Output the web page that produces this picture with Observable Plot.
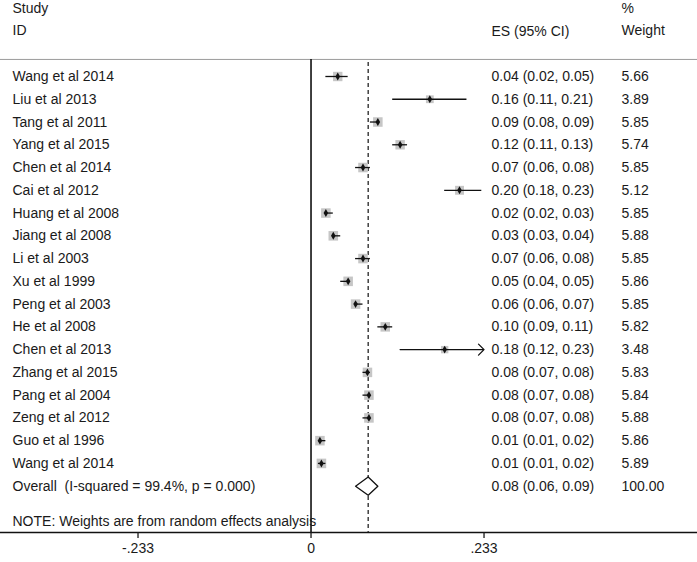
<!DOCTYPE html>
<html>
<head>
<meta charset="utf-8">
<script src="https://cdn.jsdelivr.net/npm/d3@7"></script>
<script src="https://cdn.jsdelivr.net/npm/@observablehq/plot@0.6"></script>
<style>
  html, body { margin: 0; padding: 0; background: #fff; }
</style>
</head>
<body>
<div id="chart"></div>
<script>
// ---- data ----
const studies = ["Wang et al 2014","Liu et al 2013","Tang et al 2011","Yang et al 2015","Chen et al 2014","Cai et al 2012","Huang et al 2008","Jiang et al 2008","Li et al 2003","Xu et al 1999","Peng et al 2003","He et al 2008","Chen et al 2013","Zhang et al 2015","Pang et al 2004","Zeng et al 2012","Guo et al 1996","Wang et al 2014"];
const es     = [0.036, 0.16, 0.09, 0.12, 0.07, 0.20, 0.02, 0.03, 0.07, 0.05, 0.06, 0.10, 0.18, 0.076, 0.078, 0.078, 0.012, 0.014];
const lo     = [0.02, 0.11, 0.08, 0.11, 0.06, 0.18, 0.02, 0.03, 0.06, 0.04, 0.06, 0.09, 0.12, 0.07, 0.07, 0.07, 0.01, 0.01];
const hi     = [0.05, 0.21, 0.09, 0.13, 0.08, 0.23, 0.03, 0.04, 0.08, 0.05, 0.07, 0.11, 0.234, 0.08, 0.08, 0.08, 0.02, 0.02];
const weights = ["5.66","3.89","5.85","5.74","5.85","5.12","5.85","5.88","5.85","5.86","5.85","5.82","3.48","5.83","5.84","5.88","5.86","5.89"];
const overallLabel = "Overall  (I-squared = 99.4%, p = 0.000)";
const overallES = 0.077, overallLo = 0.06, overallHi = 0.09, overallWeight = "100.00";
const noteText = "NOTE: Weights are from random effects analysis";
const xTickValues = [-0.233, 0, 0.233];
const xTickLabels = ["-.233", "0", ".233"];
const headerLeft = ["Study", "ID"];
const headerES = "ES (95% CI)";
const headerWeight = ["%", "Weight"];

// ---- layout ----
const W = 697, H = 562;
const xMax = 0.233;            // plot range limit (arrow beyond)
const overallRow = studies.length;   // 18
const noteRow = 19.55;
const fmt = v => v.toFixed(2);

const rows = studies.map((s, i) => ({
  i, study: s, es: es[i], lo: lo[i], hi: hi[i], w: +weights[i],
  label: `${fmt(es[i])} (${fmt(lo[i])}, ${fmt(hi[i])})`, weight: weights[i],
  clipped: hi[i] > xMax
}));

const diamond = [
  {x: overallLo, y: overallRow},
  {x: overallES, y: overallRow - 0.4},
  {x: overallHi, y: overallRow},
  {x: overallES, y: overallRow + 0.4},
  {x: overallLo, y: overallRow}
];

const txt = {fontSize: 14, fill: "#1a1a1a", textAnchor: "start", frameAnchor: "left"};

const chart = Plot.plot({
  width: W, height: H,
  marginLeft: 0, marginRight: 0, marginTop: 0, marginBottom: 30,
  style: {fontFamily: "'Liberation Sans', Arial, sans-serif", fontSize: "14px", background: "#fff", color: "#1a1a1a"},
  x: {domain: [-0.4182, 0.5205], axis: null},
  y: {domain: [-3.339, 20.035], reverse: true, axis: null},
  r: {type: "sqrt", domain: [0, 5.89], range: [0, 5.4]},
  marks: [
    // top rule
    Plot.ruleY([-0.75], {stroke: "#9a9a9a", strokeWidth: 1}),
    // bottom axis line
    Plot.frame({anchor: "bottom", stroke: "#111", strokeWidth: 1.3}),
    // zero line
    Plot.ruleX([0], {y1: -0.75, y2: 20.035, stroke: "#111", strokeWidth: 1.6}),
    // overall dashed line
    Plot.ruleX([overallES], {y1: -0.62, y2: 20.035, stroke: "#333", strokeWidth: 1.4, strokeDasharray: "4,3"}),
    // weight squares
    Plot.dot(rows, {x: "es", y: "i", r: "w", symbol: "square", fill: "#c6c6c6", stroke: "none"}),
    // CIs
    Plot.ruleY(rows.filter(d => !d.clipped), {y: "i", x1: "lo", x2: "hi", stroke: "#111", strokeWidth: 1.3}),
    Plot.arrow(rows.filter(d => d.clipped), {x1: "lo", x2: () => xMax, y1: "i", y2: "i", stroke: "#111", strokeWidth: 1.3, headLength: 9, headAngle: 90}),
    // point estimates
    Plot.dot(rows, {x: "es", y: "i", symbol: "diamond", r: 2.4, fill: "#111", stroke: "none"}),
    // overall diamond
    Plot.line(diamond, {x: "x", y: "y", stroke: "#111", strokeWidth: 1.3, fill: "#fff"}),
    // headers
    Plot.text(headerLeft, {...txt, y: (d, k) => -3 + k, text: d => d, dx: 12}),
    Plot.text([headerES], {...txt, y: () => -1.98, text: d => d, dx: 491}),
    Plot.text(headerWeight, {...txt, y: (d, k) => -3 + k, text: d => d, dx: 621}),
    // study rows
    Plot.text(rows, {...txt, y: "i", text: "study", dx: 12}),
    Plot.text(rows, {...txt, y: "i", text: "label", dx: 491}),
    Plot.text(rows, {...txt, y: "i", text: "weight", dx: 621}),
    // overall row
    Plot.text([overallLabel], {...txt, y: () => overallRow, text: d => d, dx: 12}),
    Plot.text([`${fmt(overallES)} (${fmt(overallLo)}, ${fmt(overallHi)})`], {...txt, y: () => overallRow, text: d => d, dx: 491}),
    Plot.text([overallWeight], {...txt, y: () => overallRow, text: d => d, dx: 621}),
    // note
    Plot.text([noteText], {...txt, y: () => noteRow, text: d => d, dx: 12}),
    // x axis ticks
    Plot.axisX({ticks: xTickValues, tickFormat: (d, k) => xTickLabels[k], tickSize: 6, tickPadding: 5, fontSize: 14, strokeWidth: 1.3, anchor: "bottom", label: null})
  ]
});
document.getElementById("chart").appendChild(chart);
</script>
</body>
</html>
